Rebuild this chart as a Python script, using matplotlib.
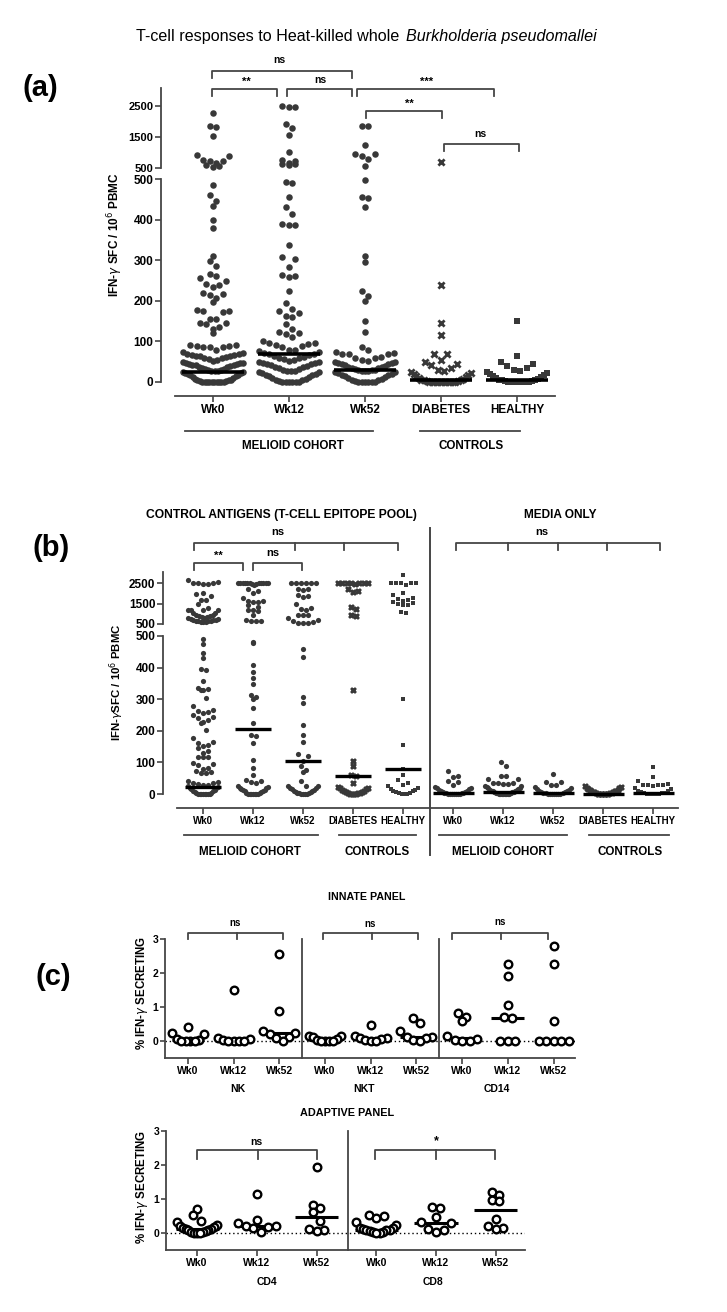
import numpy as np
import matplotlib
matplotlib.use('Agg')
import matplotlib.pyplot as plt

# ---------------- data ----------------
cats = ['Wk0', 'Wk12', 'Wk52', 'DIABETES', 'HEALTHY']
marks = ['o', 'o', 'o', 'x', 's']

# (a) heat-killed whole B. pseudomallei, SFC / 10^6 PBMC
a_wk0 = [2262, 1851, 1830, 1538, 910, 900, 770, 738, 716, 673, 586, 554, 520,
         484, 461, 445, 433, 398, 380, 310, 297, 285, 266, 262, 256, 248, 242, 240, 234,
         220, 217, 214, 208, 198, 177, 176, 175, 172, 155, 154, 145, 145, 144, 135, 131, 121,
         92, 90, 89, 88, 87, 86, 85,
         78, 75, 72, 70, 68, 67, 66, 65, 64, 63, 62, 60,
         58, 56, 55, 52, 50, 48, 47, 46, 45, 44, 43, 42, 41, 40,
         38, 36, 35, 33, 32, 30, 29, 28, 27, 26, 25, 24, 22, 21,
         19, 18, 16, 14, 12, 10, 8, 6, 5, 4, 3, 2, 0, 0, 0, 0, 0, 0, 0, 0, 0, 0]
a_wk12 = [2510, 2480, 2470, 1930, 1780, 1550, 1020, 760, 740, 660, 620, 615, 610,
          493, 490, 455, 430, 413, 388, 387, 386, 338, 307, 303, 283, 264, 262, 258, 225,
          195, 180, 175, 170, 162, 160, 143, 130, 124, 120, 117, 110, 100, 97, 96, 93, 92, 89, 86,
          80, 78, 76, 74, 72, 70, 68, 66, 64, 62, 60,
          58, 56, 54, 52, 50, 49, 48, 46, 45, 44, 42, 40,
          38, 36, 34, 32, 30, 28, 27, 26, 25, 24, 22, 20,
          18, 16, 14, 12, 10, 8, 6, 4, 2, 0, 0, 0, 0, 0, 0]
a_wk52 = [1850, 1840, 1240, 950, 940, 880, 800, 560,
          497, 455, 452, 430, 310, 295, 225, 213, 200, 150, 122,
          85, 78, 75, 72, 70, 70, 68, 62, 60, 58, 55, 52, 50, 50, 48, 46, 45, 44, 42, 40,
          38, 36, 35, 34, 32, 30, 30, 29, 28, 27, 26, 25, 24, 22, 20,
          18, 16, 14, 12, 10, 8, 6, 4, 2, 0, 0, 0, 0, 0, 0]
a_diab = [690, 240, 145, 115, 70, 68, 55, 50, 45, 42, 35, 30, 28, 25, 22, 20, 18, 15,
          12, 10, 8, 6, 5, 4, 3, 2, 1, 0, 0, 0, 0, 0, 0, 0, 0, 0, 0]
a_heal = [150, 65, 50, 45, 40, 35, 30, 28, 25, 22, 20, 18, 15, 12, 10, 8, 6, 5, 4, 3, 2,
          0, 0, 0, 0, 0, 0, 0, 0]
a_med = [25, 70, 30, 5, 5]

# (b) control antigens
b_wk0 = [2630, 2540, 2500, 2490, 2480, 2470, 2460, 2020, 1940, 1860, 1680, 1660, 1480, 1270,
         1190, 1180, 1170, 1160, 1050, 1020, 950, 920, 900, 880, 860, 840, 800, 780, 760, 740,
         700, 690, 680, 670, 660, 650, 640, 620, 600, 580,
         490, 475, 445, 430, 395, 392, 357, 335, 333, 330, 328, 305, 277, 265, 262, 258, 255,
         250, 245, 240, 235, 228, 225, 203, 177, 165, 160, 155, 152, 145, 135, 130, 118, 117,
         116, 98, 95, 93, 82, 80, 72, 70, 68, 66,
         40, 38, 36, 34, 32, 30, 28, 25, 22, 20, 18, 15, 12, 10, 8, 6, 4, 2, 0, 0, 0, 0, 0, 0, 0, 0]
b_wk12 = [2510, 2505, 2500, 2500, 2500, 2500, 2495, 2495, 2490, 2490, 2480, 2470, 2450, 2400,
          2230, 2120, 2020, 1750, 1640, 1600, 1590, 1580, 1430, 1350, 1200, 1180, 1110, 950,
          680, 660, 650, 640,
          482, 477, 408, 387, 366, 348, 313, 308, 300, 272, 224, 187, 182, 161, 108, 82, 61,
          45, 42, 38, 35, 25, 22, 20, 18, 16, 14, 12, 10, 8, 6, 4, 2, 0, 0, 0, 0, 0, 0, 0]
b_wk52 = [2510, 2500, 2500, 2490, 2490, 2500, 2230, 2200, 2160, 1900, 1870, 1830, 1500, 1270,
          1230, 1190, 960, 950, 940, 790, 690, 650, 600, 570, 570, 560,
          458, 432, 308, 289, 219, 187, 166, 126, 121, 103, 90, 77, 70, 40, 26, 25, 24,
          20, 18, 15, 12, 10, 8, 6, 5, 4, 3, 2, 0, 0, 0, 0]
b_diab = [2510, 2500, 2500, 2500, 2500, 2490, 2480, 2470, 2200, 2100, 2050, 1350, 1250, 950, 900,
          330, 105, 90, 60, 58, 35, 22, 20, 18, 15, 12, 10, 8, 6, 5, 4, 3, 2, 0, 0, 0, 0]
b_heal = [2870, 2510, 2500, 2500, 2490, 2480, 2420, 1990, 1900, 1750, 1720, 1680, 1600, 1560,
          1520, 1480, 1450, 1440, 1100, 1060,
          300, 155, 80, 60, 45, 35, 30, 25, 18, 15, 12, 10, 8, 5, 4, 2, 0, 0, 0]
b_med = [22, 205, 103, 58, 80]

# (b) media only
m_wk0 = [72, 56, 55, 40, 38, 30, 22, 20, 18, 15, 12, 10, 8, 6, 5, 4, 3, 2, 2, 1, 0, 0, 0, 0, 0, 0]
m_wk12 = [100, 89, 58, 56, 48, 46, 36, 35, 34, 33, 32, 25, 24, 22, 20, 18, 16, 14, 12, 10, 9,
          8, 7, 6, 5, 4, 3, 2, 1, 0, 0, 0, 0, 0, 0, 0]
m_wk52 = [63, 38, 37, 30, 28, 22, 20, 15, 12, 10, 8, 6, 5, 4, 3, 2, 1, 0, 0, 0, 0, 0, 0]
m_diab = [24, 22, 20, 18, 16, 14, 12, 10, 9, 8, 7, 6, 5, 4, 3, 2, 1, 0, 0, 0, 0, 0, 0, 0]
m_heal = [87, 53, 40, 33, 30, 29, 28, 27, 26, 20, 15, 10, 8, 6, 4, 3, 2, 0, 0, 0, 0, 0]
m_med = [3, 6, 3, 1, 3]

# (c) % IFN-g secreting
weeks = ['Wk0', 'Wk12', 'Wk52']
nk = [[0.40, 0.25, 0.22, 0.05, 0.02, 0, 0, 0, 0],
      [1.51, 0.08, 0.06, 0.02, 0, 0, 0, 0],
      [2.55, 0.89, 0.28, 0.25, 0.22, 0.12, 0.10, 0.0]]
nkt = [[0.15, 0.14, 0.12, 0.05, 0.03, 0, 0, 0, 0],
       [0.47, 0.15, 0.10, 0.08, 0.05, 0.02, 0, 0],
       [0.67, 0.52, 0.28, 0.13, 0.12, 0.10, 0.02, 0.0]]
cd14 = [[0.82, 0.72, 0.60, 0.15, 0.05, 0.02, 0, 0],
        [2.26, 1.92, 1.06, 0.70, 0.68, 0, 0, 0],
        [2.78, 2.26, 0.60, 0, 0, 0, 0, 0]]
innate_med = [0.03, 0.01, 0.23, 0.04, 0.05, 0.12, 0.10, 0.69, 0.01]

cd4 = [[0.71, 0.54, 0.36, 0.33, 0.25, 0.20, 0.18, 0.14, 0.13, 0.12, 0.10, 0.08, 0.06, 0.04,
        0.02, 0.01, 0, 0],
       [1.15, 0.39, 0.30, 0.22, 0.20, 0.18, 0.16, 0.03],
       [1.93, 0.82, 0.74, 0.61, 0.36, 0.13, 0.08, 0.07]]
cd8 = [[0.52, 0.49, 0.43, 0.32, 0.24, 0.16, 0.14, 0.12, 0.10, 0.09, 0.08, 0.06, 0.04, 0.03,
        0.01, 0],
       [0.77, 0.75, 0.47, 0.31, 0.28, 0.12, 0.10, 0.02],
       [1.20, 1.13, 0.96, 0.93, 0.42, 0.20, 0.14, 0.12]]
adaptive_med = [0.11, 0.20, 0.48, 0.10, 0.28, 0.68]

# ---------------- style ----------------
plt.rcParams['font.family'] = ['Liberation Sans', 'DejaVu Sans']
plt.rcParams['mathtext.fontset'] = 'dejavusans'

GRAY = '#383838'
LINE = '#454545'

W, H = 727, 1312
fig = plt.figure(figsize=(W / 100, H / 100), dpi=100)

# overlay in pixel coordinates for titles, brackets and group labels
ov = fig.add_axes([0, 0, 1, 1])
ov.set_xlim(0, W)
ov.set_ylim(H, 0)
ov.axis('off')


def box(x0, y0, x1, y1):
    ax = fig.add_axes([x0 / W, 1 - y1 / H, (x1 - x0) / W, (y1 - y0) / H])
    ax.patch.set_alpha(0)
    ax.spines['top'].set_visible(False)
    ax.spines['right'].set_visible(False)
    for s in ('left', 'bottom'):
        ax.spines[s].set_color(LINE)
        ax.spines[s].set_linewidth(1.3)
    ax.tick_params(color=LINE, width=1.2, length=4)
    return ax


def txt(x, y, s, fs, **kw):
    kw.setdefault('ha', 'center')
    kw.setdefault('va', 'center')
    kw.setdefault('fontweight', 'bold')
    ov.text(x, y, s, fontsize=fs, **kw)


def bracket(x0, x1, y, drop, mids=(), label=None, lx=None, ly=None, fs=7.5):
    ov.plot([x0, x0, x1, x1], [y + drop, y, y, y + drop], color=LINE, lw=1.3)
    for m in mids:
        ov.plot([m, m], [y, y + drop], color=LINE, lw=1.3)
    if label:
        txt(lx, ly, label, fs)


def swarm(ypx, dot, half, binf=1.6):
    # GraphPad-like column scatter: bin by height, lowest values in the middle of each row
    v = np.asarray(ypx, float)
    off = np.zeros(len(v))
    b = np.floor(v / (dot * binf))
    for k in np.unique(b):
        idx = np.where(b == k)[0]
        idx = idx[np.argsort(v[idx], kind='stable')]
        n = len(idx)
        sp = dot if n < 2 else min(dot, 2 * half / (n - 1))
        if n % 2:
            slots = [0] + [s * j for j in range(1, n) for s in (1, -1)]
        else:
            slots = [s * (j - 0.5) for j in range(1, n + 1) for s in (1, -1)]
        off[idx] = np.array(slots[:n]) * sp
    return off


def draw(ax, x, y, marker, s):
    if marker == 'x':
        ax.scatter(x, y, marker='x', s=s * 0.9, c=GRAY, linewidths=2.0, clip_on=False, zorder=2)
    elif marker == 's':
        ax.scatter(x, y, marker='s', s=s * 0.8, c=GRAY, linewidths=0, clip_on=False, zorder=2)
    else:
        ax.scatter(x, y, marker='o', s=s, c=GRAY, linewidths=0, clip_on=False, zorder=2)


def column(ax_lo, ax_hi, xc, vals, marker, lo_ppu, hi_ppu, gap, step, dot, half, s, split=500):
    v = np.asarray(vals, float)
    ypx = np.where(v <= split, v * lo_ppu, split * lo_ppu + gap + (v - split) * hi_ppu)
    off = swarm(ypx, dot, half) / step
    lo = v <= split
    draw(ax_lo, xc + off[lo], v[lo], marker, s)
    if ax_hi is not None and (~lo).any():
        draw(ax_hi, xc + off[~lo], v[~lo], marker, s)


def style_upper(ax, ticks, fs):
    ax.spines['bottom'].set_visible(False)
    ax.set_xticks([])
    ax.set_yticks(ticks)
    ax.set_yticklabels([str(t) for t in ticks], fontsize=fs, fontweight='bold')
    ax.tick_params(axis='y', pad=1.5)


# ================= (a) =================
txt(404, 37, 'T-cell responses to Heat-killed whole ', 11.6, ha='right', fontweight='normal')
txt(406, 37, 'Burkholderia pseudomallei', 11.6, ha='left', fontweight='normal', style='italic')
txt(40, 88, '(a)', 21)

a_lo = box(161, 179, 560, 396)
a_hi = box(161, 88, 560, 168)
for ax in (a_lo, a_hi):
    ax.set_xlim(-0.684, 4.566)
a_lo.set_ylim(-34.5, 500)
a_hi.set_ylim(500, 3080)
a_lo.spines['left'].set_bounds(0, 500)
a_lo.spines['bottom'].set_bounds(-0.5, 4.5)
a_lo.set_yticks([0, 100, 200, 300, 400, 500])
a_lo.set_yticklabels(['0', '100', '200', '300', '400', '500'], fontsize=8.5, fontweight='bold')
a_lo.set_xticks(range(5))
a_lo.set_xticklabels(cats, fontsize=8.5, fontweight='bold')
a_lo.tick_params(axis='y', pad=1.5)
a_lo.tick_params(axis='x', pad=2)
style_upper(a_hi, [500, 1500, 2500], 8)

for i, (vals, mk) in enumerate(zip([a_wk0, a_wk12, a_wk52, a_diab, a_heal], marks)):
    column(a_lo, a_hi, i, vals, mk, 0.406, 0.031, 11, 76, 6.5, 30, 22)
    a_lo.plot([i - 0.41, i + 0.41], [a_med[i], a_med[i]], color='k', lw=2.6, zorder=3,
              solid_capstyle='butt')

txt(115, 235, r'IFN-$\gamma$ SFC / 10$^6$ PBMC', 8.5, rotation=90)
bracket(212, 352, 71, 7, label='ns', lx=279, ly=60)
bracket(212, 277, 89, 7, label='**', lx=246, ly=82, fs=8)
bracket(287, 352, 89, 7, label='ns', lx=320, ly=80)
bracket(357, 494, 89, 7, label='***', lx=427, ly=82, fs=8)
bracket(366, 442, 111, 7, label='**', lx=409, ly=104, fs=8)
bracket(444, 519, 144, 7, label='ns', lx=480, ly=134)
ov.plot([185, 373], [431, 431], color=LINE, lw=1.3)
ov.plot([420, 520], [431, 431], color=LINE, lw=1.3)
txt(293, 446, 'MELIOID COHORT', 8.4)
txt(471, 446, 'CONTROLS', 8.4)

# ================= (b) =================
txt(51, 548, '(b)', 21)
txt(281, 515, 'CONTROL ANTIGENS (T-CELL EPITOPE POOL)', 8.7)
txt(560, 515, 'MEDIA ONLY', 8.6)

b_lo = box(163, 636, 680, 808)
b_hi = box(163, 572, 680, 624)
for ax in (b_lo, b_hi):
    ax.set_xlim(-0.8, 9.54)
b_lo.set_ylim(-44.3, 500)
b_hi.set_ylim(500, 3037)
b_lo.spines['left'].set_bounds(0, 500)
b_lo.spines['bottom'].set_bounds(-0.52, 9.5)
b_lo.set_yticks([0, 100, 200, 300, 400, 500])
b_lo.set_yticklabels(['0', '100', '200', '300', '400', '500'], fontsize=8.5, fontweight='bold')
b_lo.set_xticks(range(10))
b_lo.set_xticklabels(cats + cats, fontsize=7, fontweight='bold')
b_lo.tick_params(axis='y', pad=1.5)
b_lo.tick_params(axis='x', pad=2)
style_upper(b_hi, [500, 1500, 2500], 8.5)

for i, (vals, mk) in enumerate(zip([b_wk0, b_wk12, b_wk52, b_diab, b_heal], marks)):
    column(b_lo, b_hi, i, vals, mk, 0.316, 0.0205, 12, 50, 5, 15, 14)
    b_lo.plot([i - 0.36, i + 0.36], [b_med[i], b_med[i]], color='k', lw=2.4, zorder=3,
              solid_capstyle='butt')
for i, (vals, mk) in enumerate(zip([m_wk0, m_wk12, m_wk52, m_diab, m_heal], marks)):
    column(b_lo, None, i + 5, vals, mk, 0.316, 0.0205, 12, 50, 5, 18, 14)
    b_lo.plot([i + 5 - 0.41, i + 5 + 0.41], [m_med[i], m_med[i]], color='k', lw=2.4, zorder=3,
              solid_capstyle='butt')

txt(117, 682, r'IFN-$\gamma$SFC / 10$^6$ PBMC', 8.2, rotation=90)
ov.plot([430, 430], [528, 855], color=LINE, lw=1.4)
bracket(194, 398, 543, 7, mids=(295, 344), label='ns', lx=278, ly=532, fs=8)
bracket(194, 243, 563, 7, label='**', lx=218, ly=556, fs=8)
bracket(253, 302, 563, 7, label='ns', lx=273, ly=553, fs=8)
bracket(456, 660, 543, 7, mids=(508, 558, 607), label='ns', lx=542, ly=532, fs=8)
for x0, x1 in [(184, 318), (339, 416), (439, 567), (589, 669)]:
    ov.plot([x0, x1], [835, 835], color=LINE, lw=1.3)
for x, s in [(250, 'MELIOID COHORT'), (377, 'CONTROLS'), (503, 'MELIOID COHORT'), (630, 'CONTROLS')]:
    txt(x, 852, s, 8.4)

# ================= (c) =================
txt(53, 977, '(c)', 21)
txt(367, 897, 'INNATE PANEL', 7.7)
txt(347, 1113, 'ADAPTIVE PANEL', 7.8)


def style_c(ax, n):
    ax.set_ylim(-0.5, 3)
    ax.set_yticks([0, 1, 2, 3])
    ax.set_yticklabels(['0', '1', '2', '3'], fontsize=7.5, fontweight='bold')
    ax.set_xticks(range(n))
    ax.set_xticklabels(weeks * (n // 3), fontsize=7.5, fontweight='bold')
    ax.tick_params(axis='y', pad=1.5, length=3.5)
    ax.tick_params(axis='x', pad=2, length=4)
    ax.axhline(0, color='k', lw=1, ls=(0, (1, 2)), zorder=1)


def open_col(ax, xc, vals, med, step, half, hw):
    v = np.asarray(vals, float)
    off = swarm(v * 34, 7.5, half) / step
    ax.scatter(xc + off, v, s=30, facecolors='white', edgecolors='k', linewidths=1.7,
               clip_on=False, zorder=4)
    ax.plot([xc - hw, xc + hw], [med, med], color='k', lw=2.2, zorder=3, solid_capstyle='butt')


c_in = box(165, 939, 575, 1058)
c_in.set_xlim(-0.503, 8.47)
style_c(c_in, 9)
for k, grp in enumerate([nk, nkt, cd14]):
    for j, vals in enumerate(grp):
        i = 3 * k + j
        open_col(c_in, i, vals, innate_med[i], 45.7, 16, 0.36)
for xs in (2.5, 5.5):
    c_in.plot([xs, xs], [-0.5, 3], color=LINE, lw=1.3, clip_on=False)
txt(142, 993, r'% IFN-$\gamma$ SECRETING', 8.3, rotation=90)
for x, s in [(238, 'NK'), (364, 'NKT'), (497, 'CD14')]:
    txt(x, 1089, s, 7.5)
bracket(188, 283, 933, 6, mids=(237,), label='ns', lx=235, ly=923, fs=7)
bracket(323, 418, 933, 6, mids=(372,), label='ns', lx=370, ly=924, fs=7)
bracket(452, 548, 933, 6, mids=(501,), label='ns', lx=500, ly=922, fs=7)

c_ad = box(166, 1131, 525, 1250)
c_ad.set_xlim(-0.52, 5.49)
style_c(c_ad, 6)
for k, grp in enumerate([cd4, cd8]):
    for j, vals in enumerate(grp):
        i = 3 * k + j
        open_col(c_ad, i, vals, adaptive_med[i], 59.7, 20, 0.36)
c_ad.plot([2.53, 2.53], [-0.5, 3], color=LINE, lw=1.3, clip_on=False)
txt(142, 1187, r'% IFN-$\gamma$ SECRETING', 8.3, rotation=90)
for x, s in [(267, 'CD4'), (433, 'CD8')]:
    txt(x, 1282, s, 7.5)
bracket(197, 317, 1150, 9, mids=(258,), label='ns', lx=256, ly=1142, fs=7.5)
bracket(375, 495, 1150, 9, mids=(436,), label='*', lx=436, ly=1141, fs=9)

fig.savefig('out.png', dpi=100)
